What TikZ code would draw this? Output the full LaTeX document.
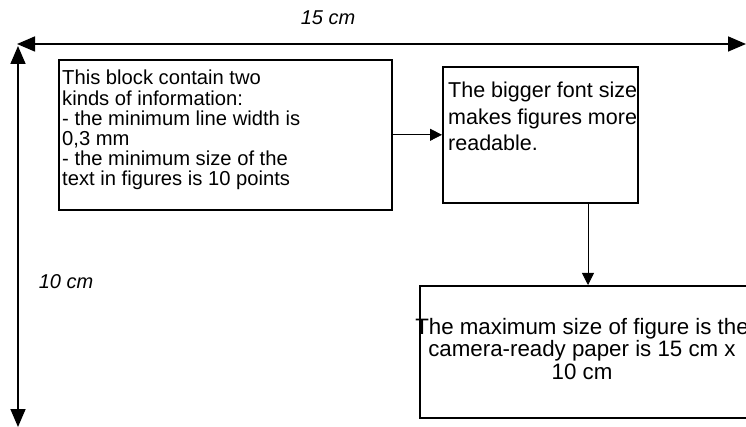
\documentclass[tikz,border=0pt]{standalone}
\usepackage{fontspec}
\setmainfont{Liberation Sans}
\usetikzlibrary{arrows.meta}
\begin{document}
\begin{tikzpicture}[x=1pt,y=-1pt,
  box/.style={draw, line width=1.6pt, inner sep=0pt, anchor=north west},
  txt/.style={inner sep=0pt, align=left, anchor=north west},
  conn/.style={line width=0.8pt, -{Triangle[length=12pt,width=12pt]}},
  dim/.style={line width=1.6pt, {Triangle[length=18pt,width=15pt]}-{Triangle[length=18pt,width=15pt]}},
  dimlabel/.style={inner sep=0pt, font=\itshape\fontsize{20}{24}\selectfont}]
\useasboundingbox (0,0) rectangle (746,427);
% boxes
\node[box, minimum width=333pt, minimum height=150pt] (lbox) at (58,59) {};
\node[box, minimum width=195pt, minimum height=136pt] (rbox) at (442,66) {};
\node[box, minimum width=327pt, minimum height=132pt] (bbox) at (419,285) {};
% texts
\node[txt, font=\fontsize{20.2}{20.2}\selectfont] (ltext) at (62,70)
  {This block contain two\\kinds of information:\\- the minimum line width is\\0,3 mm\\- the minimum size of the\\text in figures is 10 points};
\node[txt, font=\fontsize{21.5}{26.5}\selectfont] (rtext) at (448,82)
  {The bigger font size\\makes figures more\\readable.};
\node[inner sep=0pt, align=center, anchor=north, font=\fontsize{22.3}{22.5}\selectfont] (btext) at (582,318)
  {The maximum size of figure is the\\camera-ready paper is 15 cm x\\10 cm};
% connectors
\draw[conn] (lbox.east) -- (rbox.west);
\coordinate (ax) at (588,0);
\draw[conn] (rbox.south -| ax) -- (bbox.north -| ax);
% dimension arrows
\coordinate (hl) at (17,44);
\coordinate (hr) at (746,44);
\coordinate (vt) at (18,46);
\coordinate (vb) at (18,427);
\draw[dim] (hl) -- (hr);
\draw[dim] (vt) -- (vb);
\node[dimlabel] (wlabel) at (328,18) {15 cm};
\node[dimlabel] (hlabel) at (66,282) {10 cm};
\end{tikzpicture}
\end{document}
